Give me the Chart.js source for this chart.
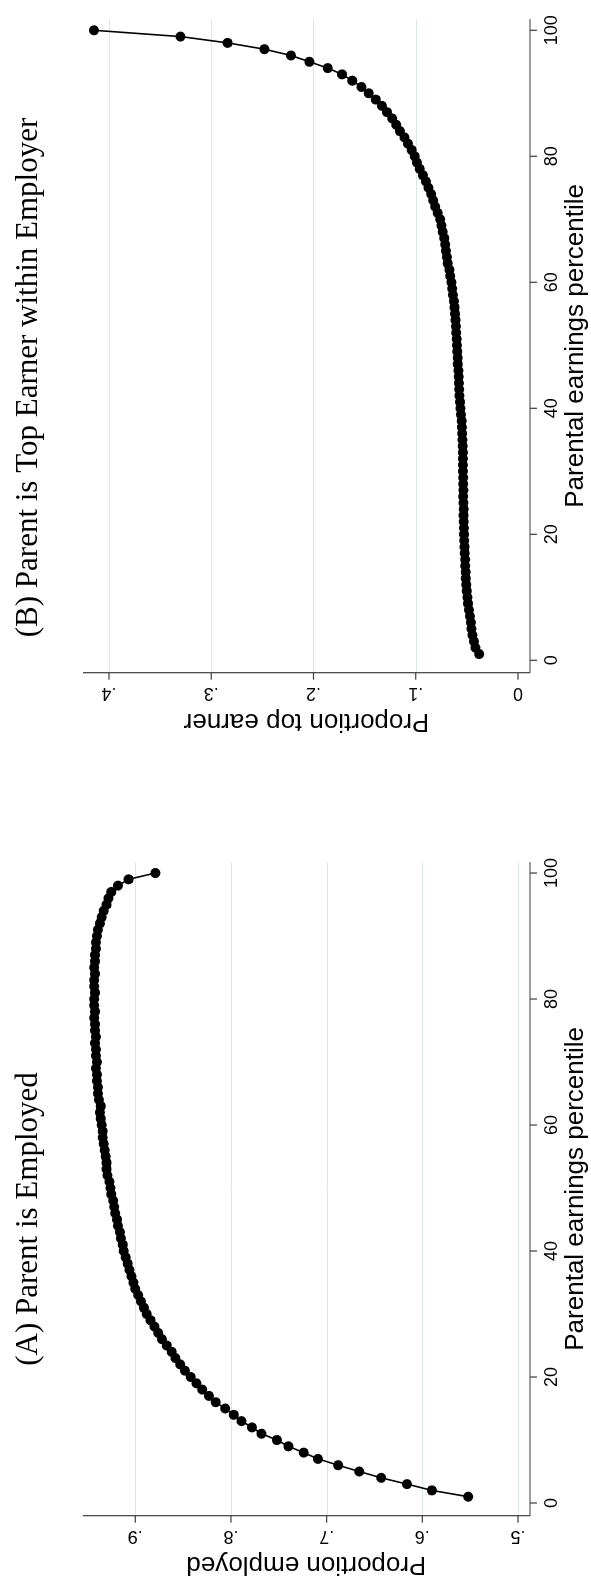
<!DOCTYPE html>
<html><head><meta charset="utf-8">
<script src="https://cdn.jsdelivr.net/npm/chart.js@4.4.1/dist/chart.umd.min.js"></script>
<style>
html,body{margin:0;padding:0;background:#fff;overflow:hidden;width:591px;height:1577px;}
#rot{position:absolute;left:0;top:0;width:1577px;height:591px;transform-origin:0 0;transform:translate(0px,1577px) rotate(-90deg);background:#fff;}
#rot canvas{position:absolute;top:0;}
</style></head><body>
<div id="rot">
<canvas id="cA" width="788" height="591" style="left:0px"></canvas>
<canvas id="cB" width="789" height="591" style="left:788px"></canvas>
</div>
<script>
const percentiles = [1,2,3,4,5,6,7,8,9,10,11,12,13,14,15,16,17,18,19,20,21,22,23,24,25,26,27,28,29,30,31,32,33,34,35,36,37,38,39,40,41,42,43,44,45,46,47,48,49,50,51,52,53,54,55,56,57,58,59,60,61,62,63,64,65,66,67,68,69,70,71,72,73,74,75,76,77,78,79,80,81,82,83,84,85,86,87,88,89,90,91,92,93,94,95,96,97,98,99,100];

const employedShare = [0.552,0.590,0.616,0.643,0.666,0.688,0.709,0.724,0.740,0.752,
0.768,0.778,0.789,0.797,0.806,0.816,0.823,0.830,0.836,0.842,
0.848,0.853,0.858,0.862,0.867,0.872,0.876,0.880,0.884,0.888,
0.891,0.894,0.897,0.900,0.902,0.904,0.906,0.908,0.910,0.912,
0.913,0.915,0.916,0.918,0.919,0.921,0.922,0.923,0.925,0.926,
0.927,0.929,0.930,0.930,0.931,0.932,0.933,0.934,0.934,0.935,
0.936,0.937,0.936,0.938,0.939,0.939,0.940,0.940,0.941,0.940,
0.941,0.941,0.942,0.941,0.942,0.942,0.943,0.942,0.943,0.943,
0.942,0.943,0.943,0.942,0.943,0.942,0.942,0.941,0.941,0.940,
0.939,0.937,0.935,0.933,0.930,0.928,0.925,0.918,0.907,0.879];

const topEarnerShare = [0.038,0.0415,0.043,0.0445,0.0455,0.046,0.047,0.048,0.0488,0.0495,
0.050,0.0505,0.051,0.0512,0.0515,0.0517,0.052,0.0522,0.0525,0.0527,
0.0528,0.053,0.0532,0.053,0.0533,0.0535,0.0534,0.0536,0.0535,0.0537,
0.0538,0.0537,0.0539,0.0541,0.0542,0.0545,0.0548,0.055,0.0558,0.0562,
0.0566,0.0572,0.0575,0.0578,0.058,0.0583,0.0588,0.059,0.0593,0.0596,
0.0599,0.0603,0.0606,0.061,0.0615,0.062,0.0627,0.0635,0.0643,0.065,
0.0662,0.0671,0.0688,0.0695,0.0705,0.0712,0.072,0.0735,0.0748,0.076,
0.0785,0.081,0.0828,0.0848,0.0875,0.090,0.093,0.096,0.0988,0.101,
0.104,0.1075,0.111,0.1155,0.119,0.123,0.128,0.133,0.139,0.146,
0.153,0.162,0.172,0.186,0.204,0.222,0.248,0.284,0.330,0.4147];

const percentileTicks = [0,20,40,60,80,100];
const percentileTickLabels = ['0','20','40','60','80','100'];
const employedTicks = [0.5,0.6,0.7,0.8,0.9];
const employedTickLabels = ['.5','.6','.7','.8','.9'];
const employedGrid = [0.5,0.6,0.7,0.8,0.9];
const topEarnerTicks = [0,0.1,0.2,0.3,0.4];
const topEarnerTickLabels = ['0','.1','.2','.3','.4'];
const topEarnerGrid = [0.1,0.2,0.3,0.4];

const titleA = '(A) Parent is Employed';
const titleB = '(B) Parent is Top Earner within Employer';
const xTitle = 'Parental earnings percentile';
const yTitleA = 'Proportion employed';
const yTitleB = 'Proportion top earner';

function decor(o){
  return {
    id:'decor'+o.key,
    beforeDatasetsDraw(chart){
      const ctx = chart.ctx, a = chart.chartArea, ys = chart.scales.y;
      ctx.save();
      ctx.strokeStyle = '#dde7ea';
      ctx.lineWidth = 1;
      o.grid.forEach(v=>{
        const p = Math.round(ys.getPixelForValue(v))+0.5;
        ctx.beginPath(); ctx.moveTo(a.left,p); ctx.lineTo(a.right,p); ctx.stroke();
      });
      ctx.restore();
    },
    afterDraw(chart){
      const ctx = chart.ctx, a = chart.chartArea, xs = chart.scales.x, ys = chart.scales.y;
      ctx.save();
      ctx.strokeStyle = '#3c3c3c';
      ctx.lineWidth = 1.2;
      // axis lines
      ctx.beginPath(); ctx.moveTo(a.left, a.top); ctx.lineTo(a.left, a.bottom); ctx.stroke();
      ctx.beginPath(); ctx.moveTo(a.left, a.bottom); ctx.lineTo(a.right, a.bottom); ctx.stroke();
      // x ticks
      ctx.fillStyle = '#000';
      ctx.font = '18px "Liberation Sans", Arial, sans-serif';
      ctx.textAlign = 'center'; ctx.textBaseline = 'alphabetic';
      percentileTicks.forEach((t,i)=>{
        const p = xs.getPixelForValue(t);
        ctx.beginPath(); ctx.moveTo(p, a.bottom); ctx.lineTo(p, a.bottom+7); ctx.stroke();
        ctx.fillText(percentileTickLabels[i], p, a.bottom+26.5);
      });
      // y ticks
      o.ticks.forEach((t,i)=>{
        const p = ys.getPixelForValue(t);
        ctx.beginPath(); ctx.moveTo(a.left-7, p); ctx.lineTo(a.left, p); ctx.stroke();
        ctx.save(); ctx.translate(a.left-15.8, p); ctx.rotate(-Math.PI/2);
        ctx.fillText(o.tickLabels[i], 0, 0); ctx.restore();
      });
      // axis titles
      ctx.font = '26px "Liberation Sans", Arial, sans-serif';
      ctx.fillText(xTitle, (a.left+a.right)/2, a.bottom+53);
      ctx.save(); ctx.translate(a.left-41.3, (a.top+a.bottom)/2); ctx.rotate(-Math.PI/2);
      ctx.fillText(o.yTitle, 0, 0); ctx.restore();
      // panel title
      ctx.font = '31px "Liberation Serif", "Times New Roman", serif';
      ctx.fillText(o.title, o.titleX, 37);
      ctx.restore();
    }
  };
}

function makeChart(id, o){
  const pts = percentiles.map((p,i)=>({x:p, y:o.values[i]}));
  return new Chart(document.getElementById(id), {
    type:'scatter',
    data:{datasets:[{data:pts, showLine:true, borderColor:'#000', borderWidth:1.6,
      pointRadius:5, pointBackgroundColor:'#000', pointBorderWidth:0, pointHoverRadius:5, clip:false}]},
    options:{
      responsive:false, animation:false, devicePixelRatio:1,
      layout:{padding:o.padding},
      plugins:{legend:{display:false}, tooltip:{enabled:false}},
      scales:{
        x:{type:'linear', min:o.xmin, max:o.xmax, display:true,
           grid:{display:false, drawTicks:false}, border:{display:false}, ticks:{display:false},
           afterFit(s){s.height=0;}},
        y:{type:'linear', min:o.ymin, max:o.ymax, display:true,
           grid:{display:false, drawTicks:false}, border:{display:false}, ticks:{display:false},
           afterFit(s){s.width=0;}}
      }
    },
    plugins:[decor(o)]
  });
}

makeChart('cA', {key:'A', values:employedShare, ticks:employedTicks, tickLabels:employedTickLabels,
  grid:employedGrid, yTitle:yTitleA, title:titleA, titleX:358,
  padding:{left:61.3, right:73, top:82.7, bottom:61},
  xmin:-2.016, xmax:101.75, ymin:0.48746, ymax:0.95497});

makeChart('cB', {key:'B', values:topEarnerShare, ticks:topEarnerTicks, tickLabels:topEarnerTickLabels,
  grid:topEarnerGrid, yTitle:yTitleB, title:titleB, titleX:411.5,
  padding:{left:116.3, right:19, top:82.9, bottom:61},
  xmin:-1.968, xmax:101.79, ymin:-0.01174, ymax:0.4255});
</script>
</body></html>
